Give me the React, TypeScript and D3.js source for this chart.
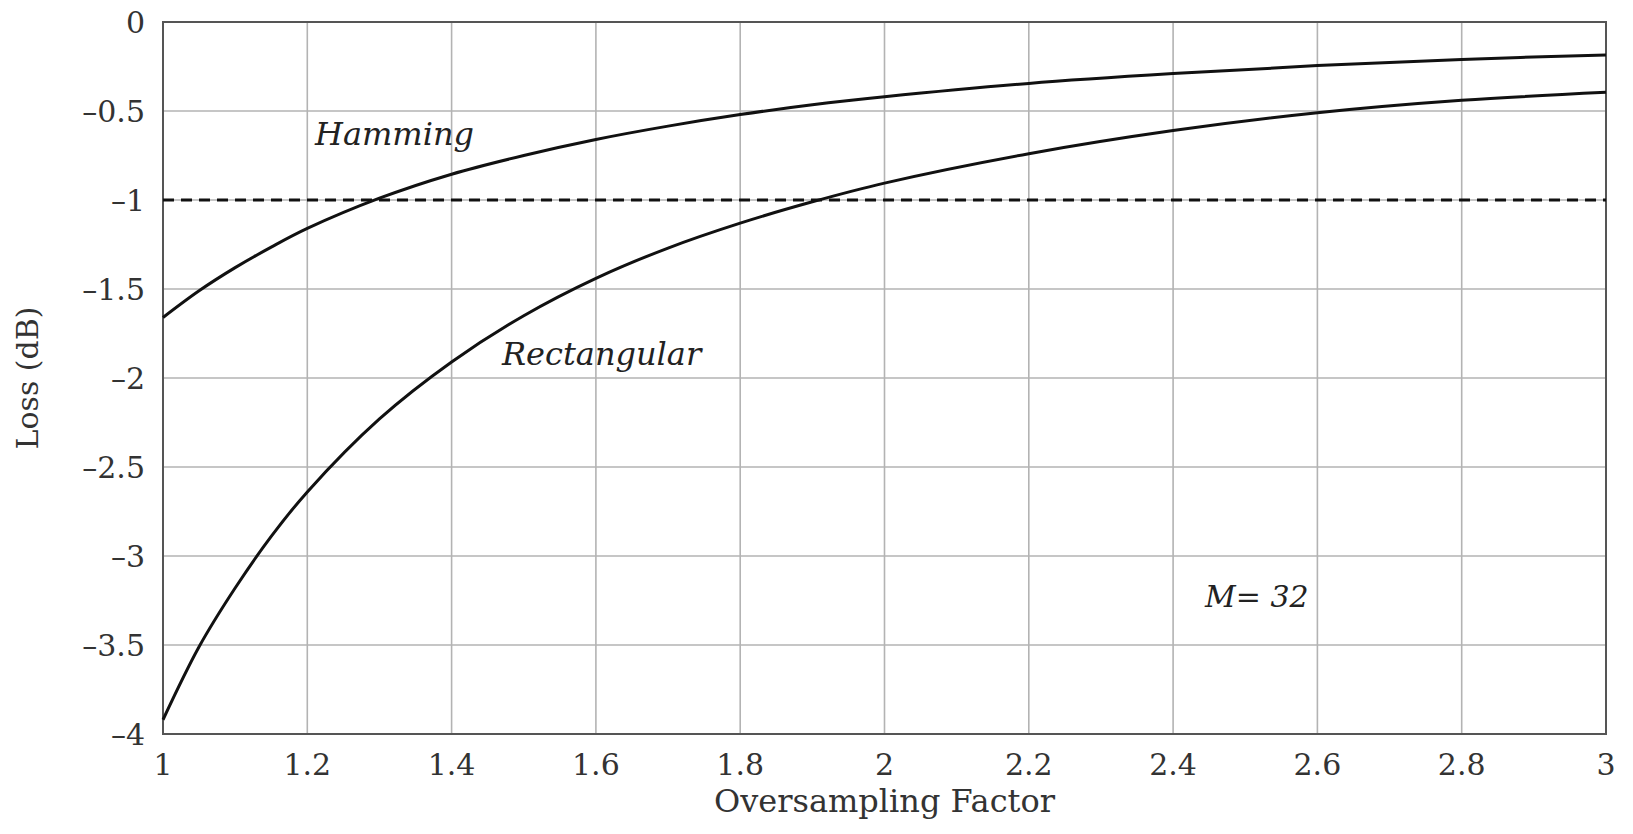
import * as d3 from "d3";

// ── Data ──────────────────────────────────────────────────────
const FACTOR = [1.0, 1.05, 1.1, 1.15, 1.2, 1.3, 1.4, 1.5, 1.6, 1.7, 1.8, 1.9, 2.0, 2.2, 2.4, 2.6, 2.8, 3.0];
const HAMMING = [-1.66, -1.51, -1.38, -1.265, -1.16, -0.99, -0.855, -0.75, -0.66, -0.585, -0.52, -0.465, -0.42, -0.345, -0.29, -0.245, -0.21, -0.185];
const RECTANGULAR = [-3.92, -3.51, -3.18, -2.89, -2.64, -2.23, -1.91, -1.65, -1.44, -1.27, -1.13, -1.01, -0.905, -0.74, -0.61, -0.51, -0.44, -0.395];
const THRESHOLD = -1;
const X_TICKS = [1, 1.2, 1.4, 1.6, 1.8, 2, 2.2, 2.4, 2.6, 2.8, 3];
const Y_TICKS = [0, -0.5, -1, -1.5, -2, -2.5, -3, -3.5, -4];

// ── Layout ────────────────────────────────────────────────────
const W = 1633;
const H = 834;
const M = { left: 163, right: 27, top: 22, bottom: 100 };
const FONT = "'DejaVu Serif', serif";

const fmt = (v: number) => (v < 0 ? "\u2013" + String(-v) : String(v));

export default function App() {
  const x = d3.scaleLinear().domain([1, 3]).range([M.left, W - M.right]);
  const y = d3.scaleLinear().domain([-4, 0]).range([H - M.bottom, M.top]);

  // centripetal Catmull-Rom copes with the uneven spacing of the readings
  const line = d3
    .line<number>()
    .x((_d, i) => x(FACTOR[i]))
    .y((d) => y(d))
    .curve(d3.curveCatmullRom.alpha(0.5));

  const [x0, x1] = x.range();
  const [y0, y1] = y.range();

  return (
    <svg
      width={W}
      height={H}
      style={{ position: "absolute", left: 0, top: 0, background: "#fff" }}
      fontFamily={FONT}
    >
      {/* grid */}
      {X_TICKS.map((t) => (
        <line key={"gx" + t} x1={x(t)} x2={x(t)} y1={y1} y2={y0} stroke="#b3b3b3" strokeWidth={1.6} />
      ))}
      {Y_TICKS.map((t) => (
        <line key={"gy" + t} x1={x0} x2={x1} y1={y(t)} y2={y(t)} stroke="#b3b3b3" strokeWidth={1.6} />
      ))}

      {/* frame */}
      <rect x={x0} y={y1} width={x1 - x0} height={y0 - y1} fill="none" stroke="#555" strokeWidth={2} />

      {/* -1 dB threshold */}
      <line
        x1={x0}
        x2={x1}
        y1={y(THRESHOLD)}
        y2={y(THRESHOLD)}
        stroke="#111"
        strokeWidth={3.2}
        strokeDasharray="11,7"
      />

      {/* curves */}
      <path d={line(HAMMING) ?? ""} fill="none" stroke="#111" strokeWidth={3} />
      <path d={line(RECTANGULAR) ?? ""} fill="none" stroke="#111" strokeWidth={3} />

      {/* tick labels */}
      {Y_TICKS.map((t) => (
        <text key={"ty" + t} x={x0 - 18} y={y(t)} dy="0.36em" textAnchor="end" fontSize={30} fill="#333">
          {fmt(t)}
        </text>
      ))}
      {X_TICKS.map((t) => (
        <text key={"tx" + t} x={x(t)} y={y0 + 41} textAnchor="middle" fontSize={30} fill="#333">
          {fmt(t)}
        </text>
      ))}

      {/* axis titles */}
      <text x={(x0 + x1) / 2} y={812} textAnchor="middle" fontSize={32} fill="#333">
        Oversampling Factor
      </text>
      <text
        transform={`translate(38, ${(y0 + y1) / 2}) rotate(-90)`}
        textAnchor="middle"
        fontSize={30}
        fill="#333"
      >
        Loss (dB)
      </text>

      {/* annotations */}
      <text x={315} y={145} fontSize={32} fontStyle="italic" fill="#222">
        Hamming
      </text>
      <text x={502} y={365} fontSize={32} fontStyle="italic" fill="#222">
        Rectangular
      </text>
      <text x={1205} y={607} fontSize={30} fontStyle="italic" fill="#222">
        M= 32
      </text>
    </svg>
  );
}
